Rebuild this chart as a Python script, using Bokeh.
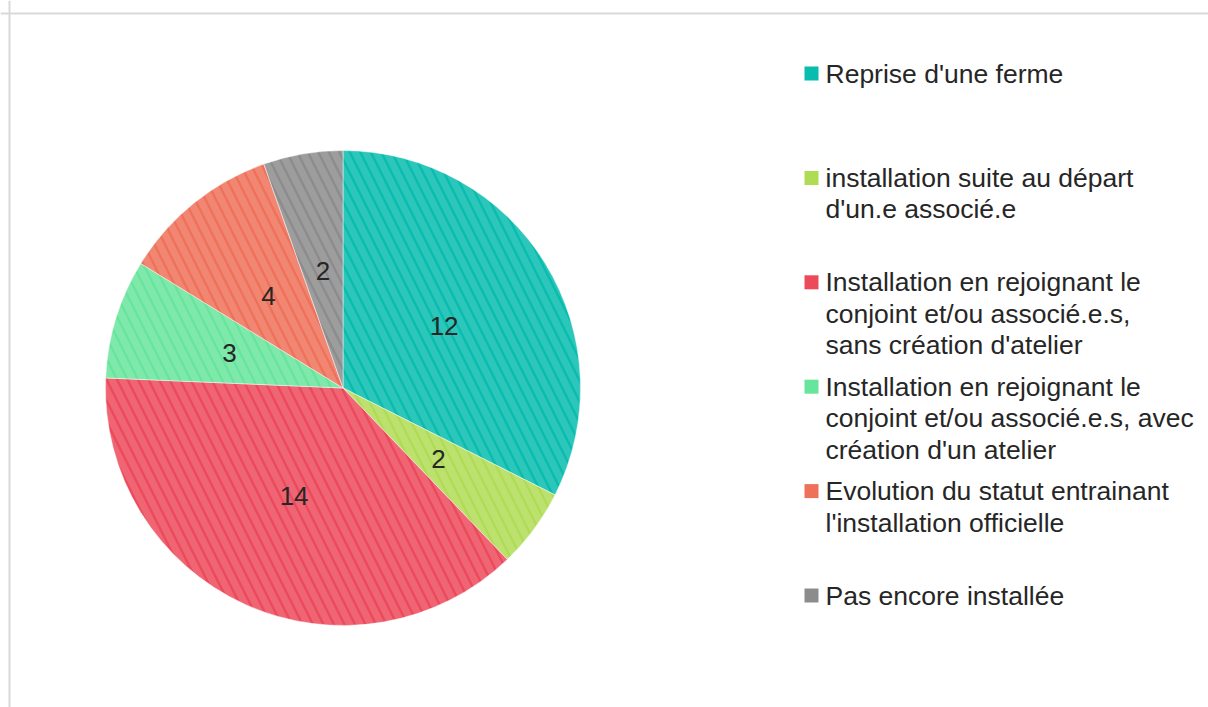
import numpy as np
from bokeh.plotting import figure
from bokeh.models import Range1d, ColumnDataSource, Span
from bokeh.embed import file_html
from bokeh.resources import INLINE
from bokeh.core.properties import value

# ---- data ----
categories = [
    "Reprise d'une ferme",
    "installation suite au départ d'un.e associé.e",
    "Installation en rejoignant le conjoint et/ou associé.e.s, sans création d'atelier",
    "Installation en rejoignant le conjoint et/ou associé.e.s, avec création d'un atelier",
    "Evolution du statut entrainant l'installation officielle",
    "Pas encore installée",
]
legend_lines = [
    ["Reprise d'une ferme"],
    ["installation suite au départ", "d'un.e associé.e"],
    ["Installation en rejoignant le", "conjoint et/ou associé.e.s,", "sans création d'atelier"],
    ["Installation en rejoignant le", "conjoint et/ou associé.e.s, avec", "création d'un atelier"],
    ["Evolution du statut entrainant", "l'installation officielle"],
    ["Pas encore installée"],
]
values = [12, 2, 14, 3, 4, 2]
colors = ["#08BCAE", "#B0DC55", "#EC4A5B", "#68E59C", "#EF715A", "#8C8C8C"]

# ---- layout (screen px -> data: x = sx, y = 707 - sy) ----
W, H = 1208, 707
cx, cy = 342.5, H - 387.5
R = 237.5

p = figure(width=W, height=H, output_backend="svg", toolbar_location=None,
           x_range=Range1d(0, W), y_range=Range1d(0, H),
           x_axis_location=None, y_axis_location=None,
           min_border=0, min_border_left=0, min_border_right=0,
           min_border_top=0, min_border_bottom=0)
p.grid.visible = False
p.outline_line_color = None
p.background_fill_color = "white"

# border of the chart area
p.add_layout(Span(location=H - 13, dimension="width", line_color="#D9D9D9", line_width=2))
p.add_layout(Span(location=9, dimension="height", line_color="#D9D9D9", line_width=2))

vals = np.array(values, dtype=float)
frac = vals / vals.sum()
cum = np.concatenate([[0], np.cumsum(frac)]) * 2 * np.pi  # clockwise from top
a0, a1 = cum[:-1], cum[1:]
src = ColumnDataSource(dict(
    start=np.pi / 2 - a1, end=np.pi / 2 - a0, color=colors,
    x=[cx] * len(values), y=[cy] * len(values),
))
p.wedge(x="x", y="y", radius=R, start_angle="start", end_angle="end",
        direction="anticlock", fill_color="color", line_color="white",
        line_width=0.8, line_alpha=0.6, source=src,
        hatch_pattern="left_diagonal_line", hatch_color="white",
        hatch_alpha=0.15, hatch_scale=21, hatch_weight=7)

# data labels
mid = (a0 + a1) / 2
lr = 0.5 * R
lab = ColumnDataSource(dict(
    x=cx + lr * np.sin(mid), y=cy + lr * np.cos(mid),
    t=[str(v) for v in values],
))
p.text(x="x", y="y", text="t", source=lab, text_align="center",
       text_baseline="middle", text_font=value("Liberation Sans"),
       text_font_size="26px", text_color="#262626")

# legend
top_sy, bot_sy = 73, 595
step = (bot_sy - top_sy) / (len(values) - 1)
line_h = 31.5
sq_x, txt_x = 811, 825
for i, (lines, col) in enumerate(zip(legend_lines, colors)):
    sy = top_sy + i * step
    p.rect(x=[sq_x], y=[H - sy], width=14, height=14, fill_color=col,
           line_color=None)
    ys = [H - (sy + k * line_h) for k in range(len(lines))]
    p.text(x=[txt_x] * len(lines), y=ys, text=lines, text_align="left",
           text_baseline="middle", text_font=value("Liberation Sans"),
           text_font_size="26.5px", text_color="#262626")

open("out.html", "w").write(file_html(p, INLINE))
